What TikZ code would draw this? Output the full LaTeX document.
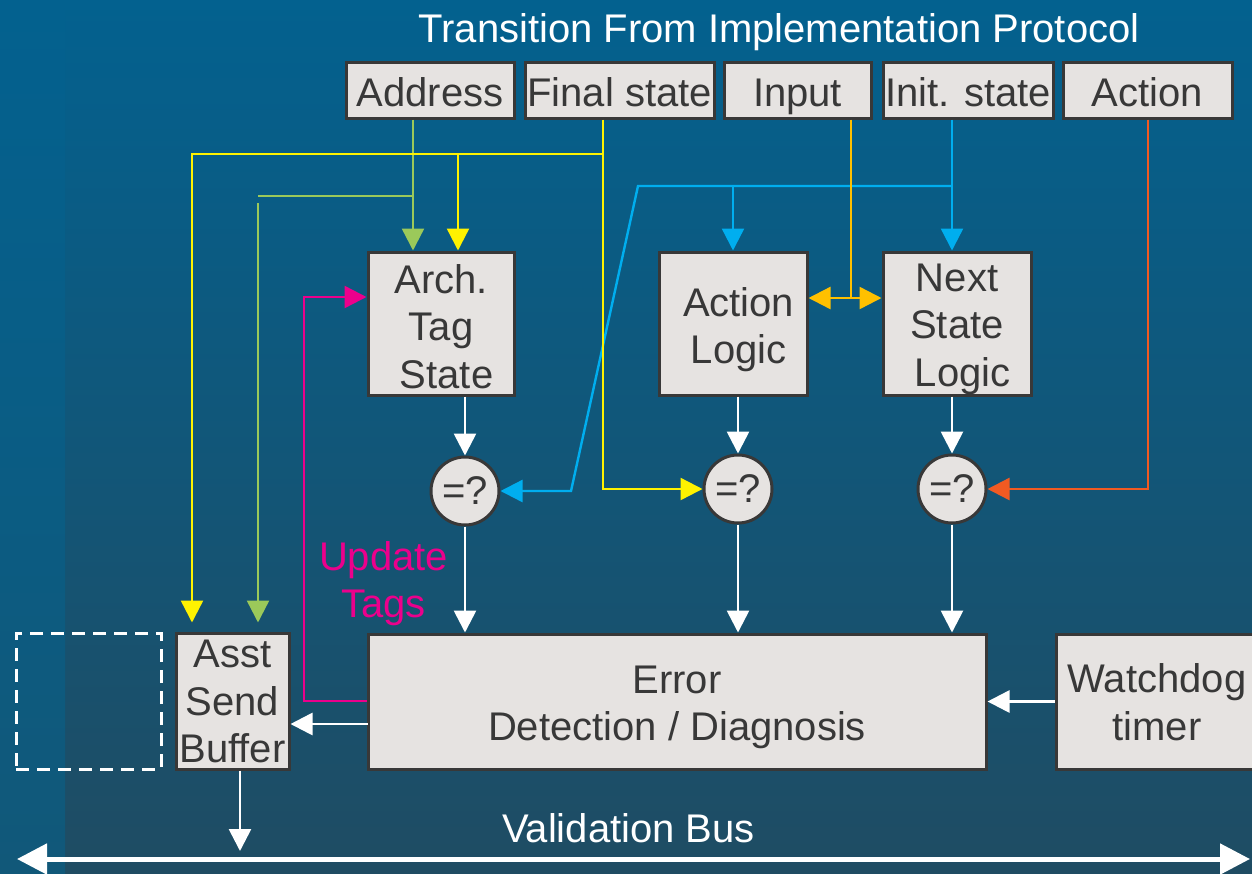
\documentclass[tikz,border=0pt]{standalone}
\usepackage{fontspec}
\setmainfont{Liberation Sans}
\usetikzlibrary{arrows.meta,calc}
\definecolor{bgtop}{HTML}{03618F}
\definecolor{bgbot}{HTML}{1F4C63}
\definecolor{stripbot}{HTML}{115879}
\definecolor{boxfill}{HTML}{E6E3E1}
\definecolor{boxline}{HTML}{383838}
\definecolor{txt}{HTML}{383838}
\definecolor{cgreen}{HTML}{9BC95A}
\definecolor{cyellow}{HTML}{FFF200}
\definecolor{cinput}{HTML}{FFC000}
\definecolor{cblue}{HTML}{00AEEF}
\definecolor{corange}{HTML}{F15A22}
\definecolor{cpink}{HTML}{EC008C}
\newcommand{\bigfont}{\fontsize{20}{23.75}\selectfont}
\newcommand{\toprl}[1]{\rule{0pt}{#1}}
\begin{document}
\begin{tikzpicture}[x=0.5pt,y=-0.5pt,
  box/.style={draw=boxline, line width=1.5pt, fill=boxfill, text=txt, inner sep=0pt, align=center, font=\bigfont},
  topbox/.style={box, minimum height=28pt, text height=16.5pt, text depth=0pt},
  cmp/.style={circle, draw=boxline, line width=1.5pt, fill=boxfill, text=txt, minimum size=34pt, inner sep=0pt, font=\bigfont},
  con/.style={line width=1.2pt, -{Triangle[length=11pt,width=11pt]}},
  wcon/.style={white, line width=1.35pt, -{Triangle[length=11pt,width=11pt]}},
  plain/.style={line width=1.2pt},
  lbl/.style={inner sep=0pt, font=\bigfont, align=center}
]
\useasboundingbox (0,0) rectangle (1252,873);
\shade[top color=bgtop, bottom color=bgbot] (65,0) rectangle (1252,873);
\shade[top color=bgtop, bottom color=stripbot] (0,0) rectangle (65,873);

% title
\node[lbl, text=white, anchor=base] (title) at (779,42) {Transition From Implementation Protocol};

% top boxes
\node[topbox, minimum width=84pt] (addr) at (430,90) {Address};
\node[topbox, minimum width=94.5pt] (fin) at (619.5,90) {Final state};
\node[topbox, minimum width=73.5pt] (inp) at (797.5,90) {Input};
\node[topbox, minimum width=85pt] (init) at (968,90) {Init. state};
\node[topbox, minimum width=84.5pt] (act) at (1147.5,90) {Action};

% middle boxes
\node[box, minimum width=73pt, minimum height=71.5pt] (arch) at (441,323.5) {\toprl{17.3pt}Arch.\\Tag\\\hspace*{0.28em}State};
\node[box, minimum width=74pt, minimum height=71.5pt] (alog) at (733,323.5) {\toprl{20.45pt}\hspace*{0.28em}Action\\\hspace*{0.28em}Logic};
\node[box, minimum width=74pt, minimum height=71.5pt] (nsl) at (957,323.5) {\toprl{19.2pt}Next\\State\\\hspace*{0.28em}Logic};

% comparators
\node[cmp] (c1) at (465,491) {=?};
\node[cmp] (c2) at (738,489) {=?};
\node[cmp] (c3) at (952,489) {=?};

% bottom boxes
\node[box, minimum width=309pt, minimum height=67.5pt] (err) at (677,701.5) {\toprl{19.45pt}Error\\Detection / Diagnosis};
\node[box, minimum width=101pt, minimum height=67.5pt] (wd) at (1157,701.5) {\toprl{15.4pt}Watchdog\\timer};
\node[box, minimum width=56.5pt, minimum height=68pt] (asb) at (232.5,701) {\toprl{14.6pt}Asst\\Send\\Buffer};
\node[draw=white, line width=1.5pt, dash pattern=on 6.5pt off 4pt, minimum width=72.5pt, minimum height=68pt, inner sep=0pt] (dbox) at (88.5,701) {};

% labels
\node[lbl, text=cpink] (upd) at (383.5,583.5) {Update\\Tags};
\node[lbl, text=white, anchor=base] (vbus) at (628.5,842) {Validation Bus};

% coordinates
\coordinate (gA) at (413,196);
\coordinate (gB) at (258,196);
\coordinate (gC) at (258,203);
\coordinate (yA) at (603,154);
\coordinate (yB) at (192,154);
\coordinate (yC) at (458,154);
\coordinate (yD) at (603,489);
\coordinate (iA) at (851,298);
\coordinate (bA) at (952,186);
\coordinate (bB) at (733,186);
\coordinate (bC) at (638,186);
\coordinate (bD) at (571,491);
\coordinate (oA) at (1148,489);
\coordinate (ea) at (368,724);
\coordinate (pA) at (304,701);
\coordinate (pB) at (304,297);
\coordinate (busL) at (17,859);
\coordinate (busR) at (1250,859);
\coordinate (bs) at (240,851);

% blue (init state)
\draw[con, cblue] (init.south -| bA) -- (bA |- nsl.north);
\draw[con, cblue] (bA) -- (bC) -- (bD) -- (c1.east);
\draw[con, cblue] (bB) -- (bB |- alog.north);

% green (address)
\draw[con, cgreen] (addr.south -| gA) -- (gA |- arch.north);
\draw[plain, cgreen] (gA) -- (gB);
\draw[con, cgreen, shorten >=4.5pt] (gC) -- (gC |- asb.north);

% yellow (final state)
\draw[con, cyellow] (fin.south -| yA) -- (yD) -- (c2.west);
\draw[con, cyellow, shorten >=4.5pt] (yA) -- (yB) -- (yB |- asb.north);
\draw[con, cyellow] (yC) -- (yC |- arch.north);

% input
\draw[plain, cinput] (inp.south -| iA) -- (iA);
\draw[cinput, line width=1.2pt, {Triangle[length=11pt,width=11pt]}-{Triangle[length=11pt,width=11pt]}] (alog.east |- iA) -- (nsl.west |- iA);

% orange (action)
\draw[con, corange] (act.south -| oA) -- (oA) -- (c3.east);

% pink update tags
\draw[con, cpink] (err.west |- pA) -- (pA) -- (pB) -- (pB -| arch.west);

% white flows
\draw[wcon] (arch.south -| c1) -- (c1.north);
\draw[wcon] (c1.south) -- (c1.south |- err.north);
\draw[wcon] (alog.south -| c2) -- (c2.north);
\draw[wcon] (c2.south) -- (c2.south |- err.north);
\draw[wcon] (nsl.south -| c3) -- (c3.north);
\draw[wcon] (c3.south) -- (c3.south |- err.north);
\draw[wcon] (ea) -- (ea -| asb.east);
\draw[wcon] (wd.west) -- (err.east);
\draw[wcon] (bs |- asb.south) -- (bs);

% validation bus
\draw[white, line width=2.5pt, {Triangle[length=15pt,width=15pt]}-{Triangle[length=15pt,width=15pt]}] (busL) -- (busR);
\end{tikzpicture}
\end{document}
